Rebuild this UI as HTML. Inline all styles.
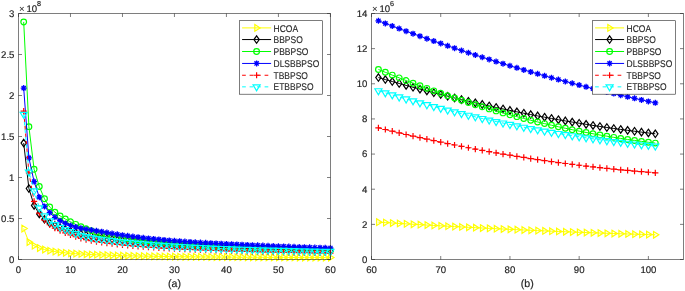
<!DOCTYPE html>
<html><head><meta charset="utf-8"><style>
html,body{margin:0;padding:0;background:#fff;}
svg{display:block;will-change:transform;}
text{font-family:"Liberation Sans",sans-serif;font-size:8.5px;fill:#262626;stroke:#262626;stroke-width:0.18px;text-rendering:geometricPrecision;}
text.tk{font-size:9.6px;}
text.lg{stroke-width:0.1px;}
</style></head><body>
<svg width="685" height="291" viewBox="0 0 685 291">
<rect width="685" height="291" fill="#fff"/>
<defs>
<clipPath id="cl"><rect x="18.5" y="13.5" width="317.9" height="251.0"/></clipPath>
<clipPath id="cr"><rect x="371.5" y="13.5" width="311.5" height="246.0"/></clipPath>
</defs>
<g><path d="M23.70,228.59L28.90,242.12L34.09,245.72L39.29,248.02L44.49,249.50L49.69,250.73L54.89,251.60L60.09,252.28L65.28,252.82L70.48,253.27L75.68,253.65L80.88,253.97L86.08,254.26L91.28,254.51L96.47,254.74L101.67,254.96L106.87,255.15L112.07,255.33L117.27,255.50L122.47,255.65L127.66,255.78L132.86,255.91L138.06,256.02L143.26,256.13L148.46,256.23L153.66,256.32L158.85,256.41L164.05,256.49L169.25,256.56L174.45,256.63L179.65,256.69L184.85,256.75L190.04,256.81L195.24,256.86L200.44,256.91L205.64,256.96L210.84,257.00L216.04,257.05L221.23,257.08L226.43,257.12L231.63,257.16L236.83,257.19L242.03,257.22L247.23,257.26L252.42,257.28L257.62,257.31L262.82,257.34L268.02,257.37L273.22,257.39L278.42,257.42L283.61,257.44L288.81,257.46L294.01,257.48L299.21,257.50L304.41,257.52L309.61,257.54L314.80,257.56L320.00,257.58L325.20,257.60L330.40,257.61" fill="none" stroke="#ffff00" stroke-width="1.0"/>
<path d="M21.93,225.29L27.23,228.59L21.93,231.89ZM27.13,238.82L32.43,242.12L27.13,245.42ZM32.33,242.42L37.63,245.72L32.33,249.02ZM37.53,244.72L42.83,248.02L37.53,251.32ZM42.72,246.20L48.02,249.50L42.72,252.80ZM47.92,247.43L53.22,250.73L47.92,254.03ZM53.12,248.30L58.42,251.60L53.12,254.90ZM58.32,248.98L63.62,252.28L58.32,255.58ZM63.52,249.52L68.82,252.82L63.52,256.12ZM68.72,249.97L74.02,253.27L68.72,256.57ZM73.91,250.35L79.21,253.65L73.91,256.95ZM79.11,250.67L84.41,253.97L79.11,257.27ZM84.31,250.96L89.61,254.26L84.31,257.56ZM89.51,251.21L94.81,254.51L89.51,257.81ZM94.71,251.44L100.01,254.74L94.71,258.04ZM99.91,251.66L105.21,254.96L99.91,258.26ZM105.10,251.85L110.40,255.15L105.10,258.45ZM110.30,252.03L115.60,255.33L110.30,258.63ZM115.50,252.20L120.80,255.50L115.50,258.80ZM120.70,252.35L126.00,255.65L120.70,258.95ZM125.90,252.48L131.20,255.78L125.90,259.08ZM131.10,252.61L136.40,255.91L131.10,259.21ZM136.29,252.72L141.59,256.02L136.29,259.32ZM141.49,252.83L146.79,256.13L141.49,259.43ZM146.69,252.93L151.99,256.23L146.69,259.53ZM151.89,253.02L157.19,256.32L151.89,259.62ZM157.09,253.11L162.39,256.41L157.09,259.71ZM162.29,253.19L167.59,256.49L162.29,259.79ZM167.48,253.26L172.78,256.56L167.48,259.86ZM172.68,253.33L177.98,256.63L172.68,259.93ZM177.88,253.39L183.18,256.69L177.88,259.99ZM183.08,253.45L188.38,256.75L183.08,260.05ZM188.28,253.51L193.58,256.81L188.28,260.11ZM193.48,253.56L198.78,256.86L193.48,260.16ZM198.67,253.61L203.97,256.91L198.67,260.21ZM203.87,253.66L209.17,256.96L203.87,260.26ZM209.07,253.70L214.37,257.00L209.07,260.30ZM214.27,253.75L219.57,257.05L214.27,260.35ZM219.47,253.78L224.77,257.08L219.47,260.38ZM224.67,253.82L229.97,257.12L224.67,260.42ZM229.86,253.86L235.16,257.16L229.86,260.46ZM235.06,253.89L240.36,257.19L235.06,260.49ZM240.26,253.92L245.56,257.22L240.26,260.52ZM245.46,253.96L250.76,257.26L245.46,260.56ZM250.66,253.98L255.96,257.28L250.66,260.58ZM255.86,254.01L261.16,257.31L255.86,260.61ZM261.06,254.04L266.36,257.34L261.06,260.64ZM266.25,254.07L271.55,257.37L266.25,260.67ZM271.45,254.09L276.75,257.39L271.45,260.69ZM276.65,254.12L281.95,257.42L276.65,260.72ZM281.85,254.14L287.15,257.44L281.85,260.74ZM287.05,254.16L292.35,257.46L287.05,260.76ZM292.25,254.18L297.55,257.48L292.25,260.78ZM297.44,254.20L302.74,257.50L297.44,260.80ZM302.64,254.22L307.94,257.52L302.64,260.82ZM307.84,254.24L313.14,257.54L307.84,260.84ZM313.04,254.26L318.34,257.56L313.04,260.86ZM318.24,254.28L323.54,257.58L318.24,260.88ZM323.44,254.30L328.74,257.60L323.44,260.90ZM328.63,254.31L333.93,257.61L328.63,260.91Z" fill="none" stroke="#ffff00" stroke-width="1.2"/>
<path d="M23.70,143.06L28.90,188.49L34.09,205.38L39.29,213.97L44.49,219.32L49.69,222.95L54.89,225.62L60.09,227.77L65.28,229.59L70.48,231.21L75.68,232.66L80.88,233.94L86.08,235.09L91.28,236.13L96.47,237.06L101.67,237.91L106.87,238.68L112.07,239.39L117.27,240.04L122.47,240.64L127.66,241.19L132.86,241.70L138.06,242.18L143.26,242.63L148.46,243.06L153.66,243.46L158.85,243.84L164.05,244.21L169.25,244.56L174.45,244.90L179.65,245.23L184.85,245.54L190.04,245.84L195.24,246.13L200.44,246.40L205.64,246.66L210.84,246.92L216.04,247.16L221.23,247.39L226.43,247.62L231.63,247.84L236.83,248.05L242.03,248.25L247.23,248.45L252.42,248.64L257.62,248.82L262.82,249.00L268.02,249.17L273.22,249.34L278.42,249.50L283.61,249.66L288.81,249.81L294.01,249.96L299.21,250.10L304.41,250.24L309.61,250.38L314.80,250.51L320.00,250.64L325.20,250.77L330.40,250.89" fill="none" stroke="#000000" stroke-width="1.0"/>
<path d="M23.70,139.31L26.35,143.06L23.70,146.81L21.05,143.06ZM28.90,184.74L31.55,188.49L28.90,192.24L26.25,188.49ZM34.09,201.63L36.74,205.38L34.09,209.13L31.45,205.38ZM39.29,210.22L41.94,213.97L39.29,217.72L36.64,213.97ZM44.49,215.57L47.14,219.32L44.49,223.07L41.84,219.32ZM49.69,219.20L52.34,222.95L49.69,226.70L47.04,222.95ZM54.89,221.87L57.54,225.62L54.89,229.37L52.24,225.62ZM60.09,224.02L62.74,227.77L60.09,231.52L57.44,227.77ZM65.28,225.84L67.94,229.59L65.28,233.34L62.63,229.59ZM70.48,227.46L73.13,231.21L70.48,234.96L67.83,231.21ZM75.68,228.91L78.33,232.66L75.68,236.41L73.03,232.66ZM80.88,230.19L83.53,233.94L80.88,237.69L78.23,233.94ZM86.08,231.34L88.73,235.09L86.08,238.84L83.43,235.09ZM91.28,232.38L93.93,236.13L91.28,239.88L88.63,236.13ZM96.47,233.31L99.12,237.06L96.47,240.81L93.82,237.06ZM101.67,234.16L104.32,237.91L101.67,241.66L99.02,237.91ZM106.87,234.93L109.52,238.68L106.87,242.43L104.22,238.68ZM112.07,235.64L114.72,239.39L112.07,243.14L109.42,239.39ZM117.27,236.29L119.92,240.04L117.27,243.79L114.62,240.04ZM122.47,236.89L125.12,240.64L122.47,244.39L119.82,240.64ZM127.66,237.44L130.31,241.19L127.66,244.94L125.01,241.19ZM132.86,237.95L135.51,241.70L132.86,245.45L130.21,241.70ZM138.06,238.43L140.71,242.18L138.06,245.93L135.41,242.18ZM143.26,238.88L145.91,242.63L143.26,246.38L140.61,242.63ZM148.46,239.31L151.11,243.06L148.46,246.81L145.81,243.06ZM153.66,239.71L156.31,243.46L153.66,247.21L151.01,243.46ZM158.85,240.09L161.50,243.84L158.85,247.59L156.20,243.84ZM164.05,240.46L166.70,244.21L164.05,247.96L161.40,244.21ZM169.25,240.81L171.90,244.56L169.25,248.31L166.60,244.56ZM174.45,241.15L177.10,244.90L174.45,248.65L171.80,244.90ZM179.65,241.48L182.30,245.23L179.65,248.98L177.00,245.23ZM184.85,241.79L187.50,245.54L184.85,249.29L182.20,245.54ZM190.04,242.09L192.69,245.84L190.04,249.59L187.39,245.84ZM195.24,242.38L197.89,246.13L195.24,249.88L192.59,246.13ZM200.44,242.65L203.09,246.40L200.44,250.15L197.79,246.40ZM205.64,242.91L208.29,246.66L205.64,250.41L202.99,246.66ZM210.84,243.17L213.49,246.92L210.84,250.67L208.19,246.92ZM216.04,243.41L218.69,247.16L216.04,250.91L213.39,247.16ZM221.23,243.64L223.88,247.39L221.23,251.14L218.58,247.39ZM226.43,243.87L229.08,247.62L226.43,251.37L223.78,247.62ZM231.63,244.09L234.28,247.84L231.63,251.59L228.98,247.84ZM236.83,244.30L239.48,248.05L236.83,251.80L234.18,248.05ZM242.03,244.50L244.68,248.25L242.03,252.00L239.38,248.25ZM247.23,244.70L249.88,248.45L247.23,252.20L244.58,248.45ZM252.42,244.89L255.07,248.64L252.42,252.39L249.77,248.64ZM257.62,245.07L260.27,248.82L257.62,252.57L254.97,248.82ZM262.82,245.25L265.47,249.00L262.82,252.75L260.17,249.00ZM268.02,245.42L270.67,249.17L268.02,252.92L265.37,249.17ZM273.22,245.59L275.87,249.34L273.22,253.09L270.57,249.34ZM278.42,245.75L281.07,249.50L278.42,253.25L275.77,249.50ZM283.61,245.91L286.26,249.66L283.61,253.41L280.96,249.66ZM288.81,246.06L291.46,249.81L288.81,253.56L286.16,249.81ZM294.01,246.21L296.66,249.96L294.01,253.71L291.36,249.96ZM299.21,246.35L301.86,250.10L299.21,253.85L296.56,250.10ZM304.41,246.49L307.06,250.24L304.41,253.99L301.76,250.24ZM309.61,246.63L312.26,250.38L309.61,254.13L306.96,250.38ZM314.80,246.76L317.45,250.51L314.80,254.26L312.15,250.51ZM320.00,246.89L322.65,250.64L320.00,254.39L317.35,250.64ZM325.20,247.02L327.85,250.77L325.20,254.52L322.55,250.77ZM330.40,247.14L333.05,250.89L330.40,254.64L327.75,250.89Z" fill="none" stroke="#000000" stroke-width="1.2"/>
<path d="M23.70,21.95L28.90,126.66L34.09,169.30L39.29,186.52L44.49,198.82L49.69,207.02L54.89,212.18L60.09,215.92L65.28,219.00L70.48,221.78L75.68,224.37L80.88,226.70L86.08,228.77L91.28,230.60L96.47,232.19L101.67,233.58L106.87,234.82L112.07,235.92L117.27,236.90L122.47,237.77L127.66,238.54L132.86,239.23L138.06,239.86L143.26,240.43L148.46,240.96L153.66,241.46L158.85,241.94L164.05,242.40L169.25,242.84L174.45,243.26L179.65,243.67L184.85,244.07L190.04,244.44L195.24,244.80L200.44,245.14L205.64,245.46L210.84,245.78L216.04,246.08L221.23,246.36L226.43,246.64L231.63,246.91L236.83,247.16L242.03,247.41L247.23,247.65L252.42,247.88L257.62,248.10L262.82,248.32L268.02,248.52L273.22,248.72L278.42,248.92L283.61,249.11L288.81,249.29L294.01,249.46L299.21,249.64L304.41,249.80L309.61,249.96L314.80,250.12L320.00,250.27L325.20,250.42L330.40,250.56" fill="none" stroke="#00ff00" stroke-width="1.0"/>
<path d="M20.85,21.95a2.85,2.85 0 1,0 5.70,0a2.85,2.85 0 1,0 -5.70,0ZM26.05,126.66a2.85,2.85 0 1,0 5.70,0a2.85,2.85 0 1,0 -5.70,0ZM31.24,169.30a2.85,2.85 0 1,0 5.70,0a2.85,2.85 0 1,0 -5.70,0ZM36.44,186.52a2.85,2.85 0 1,0 5.70,0a2.85,2.85 0 1,0 -5.70,0ZM41.64,198.82a2.85,2.85 0 1,0 5.70,0a2.85,2.85 0 1,0 -5.70,0ZM46.84,207.02a2.85,2.85 0 1,0 5.70,0a2.85,2.85 0 1,0 -5.70,0ZM52.04,212.18a2.85,2.85 0 1,0 5.70,0a2.85,2.85 0 1,0 -5.70,0ZM57.24,215.92a2.85,2.85 0 1,0 5.70,0a2.85,2.85 0 1,0 -5.70,0ZM62.43,219.00a2.85,2.85 0 1,0 5.70,0a2.85,2.85 0 1,0 -5.70,0ZM67.63,221.78a2.85,2.85 0 1,0 5.70,0a2.85,2.85 0 1,0 -5.70,0ZM72.83,224.37a2.85,2.85 0 1,0 5.70,0a2.85,2.85 0 1,0 -5.70,0ZM78.03,226.70a2.85,2.85 0 1,0 5.70,0a2.85,2.85 0 1,0 -5.70,0ZM83.23,228.77a2.85,2.85 0 1,0 5.70,0a2.85,2.85 0 1,0 -5.70,0ZM88.43,230.60a2.85,2.85 0 1,0 5.70,0a2.85,2.85 0 1,0 -5.70,0ZM93.62,232.19a2.85,2.85 0 1,0 5.70,0a2.85,2.85 0 1,0 -5.70,0ZM98.82,233.58a2.85,2.85 0 1,0 5.70,0a2.85,2.85 0 1,0 -5.70,0ZM104.02,234.82a2.85,2.85 0 1,0 5.70,0a2.85,2.85 0 1,0 -5.70,0ZM109.22,235.92a2.85,2.85 0 1,0 5.70,0a2.85,2.85 0 1,0 -5.70,0ZM114.42,236.90a2.85,2.85 0 1,0 5.70,0a2.85,2.85 0 1,0 -5.70,0ZM119.62,237.77a2.85,2.85 0 1,0 5.70,0a2.85,2.85 0 1,0 -5.70,0ZM124.81,238.54a2.85,2.85 0 1,0 5.70,0a2.85,2.85 0 1,0 -5.70,0ZM130.01,239.23a2.85,2.85 0 1,0 5.70,0a2.85,2.85 0 1,0 -5.70,0ZM135.21,239.86a2.85,2.85 0 1,0 5.70,0a2.85,2.85 0 1,0 -5.70,0ZM140.41,240.43a2.85,2.85 0 1,0 5.70,0a2.85,2.85 0 1,0 -5.70,0ZM145.61,240.96a2.85,2.85 0 1,0 5.70,0a2.85,2.85 0 1,0 -5.70,0ZM150.81,241.46a2.85,2.85 0 1,0 5.70,0a2.85,2.85 0 1,0 -5.70,0ZM156.00,241.94a2.85,2.85 0 1,0 5.70,0a2.85,2.85 0 1,0 -5.70,0ZM161.20,242.40a2.85,2.85 0 1,0 5.70,0a2.85,2.85 0 1,0 -5.70,0ZM166.40,242.84a2.85,2.85 0 1,0 5.70,0a2.85,2.85 0 1,0 -5.70,0ZM171.60,243.26a2.85,2.85 0 1,0 5.70,0a2.85,2.85 0 1,0 -5.70,0ZM176.80,243.67a2.85,2.85 0 1,0 5.70,0a2.85,2.85 0 1,0 -5.70,0ZM182.00,244.07a2.85,2.85 0 1,0 5.70,0a2.85,2.85 0 1,0 -5.70,0ZM187.19,244.44a2.85,2.85 0 1,0 5.70,0a2.85,2.85 0 1,0 -5.70,0ZM192.39,244.80a2.85,2.85 0 1,0 5.70,0a2.85,2.85 0 1,0 -5.70,0ZM197.59,245.14a2.85,2.85 0 1,0 5.70,0a2.85,2.85 0 1,0 -5.70,0ZM202.79,245.46a2.85,2.85 0 1,0 5.70,0a2.85,2.85 0 1,0 -5.70,0ZM207.99,245.78a2.85,2.85 0 1,0 5.70,0a2.85,2.85 0 1,0 -5.70,0ZM213.19,246.08a2.85,2.85 0 1,0 5.70,0a2.85,2.85 0 1,0 -5.70,0ZM218.38,246.36a2.85,2.85 0 1,0 5.70,0a2.85,2.85 0 1,0 -5.70,0ZM223.58,246.64a2.85,2.85 0 1,0 5.70,0a2.85,2.85 0 1,0 -5.70,0ZM228.78,246.91a2.85,2.85 0 1,0 5.70,0a2.85,2.85 0 1,0 -5.70,0ZM233.98,247.16a2.85,2.85 0 1,0 5.70,0a2.85,2.85 0 1,0 -5.70,0ZM239.18,247.41a2.85,2.85 0 1,0 5.70,0a2.85,2.85 0 1,0 -5.70,0ZM244.38,247.65a2.85,2.85 0 1,0 5.70,0a2.85,2.85 0 1,0 -5.70,0ZM249.57,247.88a2.85,2.85 0 1,0 5.70,0a2.85,2.85 0 1,0 -5.70,0ZM254.77,248.10a2.85,2.85 0 1,0 5.70,0a2.85,2.85 0 1,0 -5.70,0ZM259.97,248.32a2.85,2.85 0 1,0 5.70,0a2.85,2.85 0 1,0 -5.70,0ZM265.17,248.52a2.85,2.85 0 1,0 5.70,0a2.85,2.85 0 1,0 -5.70,0ZM270.37,248.72a2.85,2.85 0 1,0 5.70,0a2.85,2.85 0 1,0 -5.70,0ZM275.57,248.92a2.85,2.85 0 1,0 5.70,0a2.85,2.85 0 1,0 -5.70,0ZM280.76,249.11a2.85,2.85 0 1,0 5.70,0a2.85,2.85 0 1,0 -5.70,0ZM285.96,249.29a2.85,2.85 0 1,0 5.70,0a2.85,2.85 0 1,0 -5.70,0ZM291.16,249.46a2.85,2.85 0 1,0 5.70,0a2.85,2.85 0 1,0 -5.70,0ZM296.36,249.64a2.85,2.85 0 1,0 5.70,0a2.85,2.85 0 1,0 -5.70,0ZM301.56,249.80a2.85,2.85 0 1,0 5.70,0a2.85,2.85 0 1,0 -5.70,0ZM306.76,249.96a2.85,2.85 0 1,0 5.70,0a2.85,2.85 0 1,0 -5.70,0ZM311.95,250.12a2.85,2.85 0 1,0 5.70,0a2.85,2.85 0 1,0 -5.70,0ZM317.15,250.27a2.85,2.85 0 1,0 5.70,0a2.85,2.85 0 1,0 -5.70,0ZM322.35,250.42a2.85,2.85 0 1,0 5.70,0a2.85,2.85 0 1,0 -5.70,0ZM327.55,250.56a2.85,2.85 0 1,0 5.70,0a2.85,2.85 0 1,0 -5.70,0Z" fill="none" stroke="#00ff00" stroke-width="1.2"/>
<path d="M23.70,88.12L28.90,157.82L34.09,181.60L39.29,197.18L44.49,206.45L49.69,212.68L54.89,217.28L60.09,220.74L65.28,223.40L70.48,225.47L75.68,227.09L80.88,228.34L86.08,229.26L91.28,230.01L96.47,230.80L101.67,231.69L106.87,232.61L112.07,233.52L117.27,234.37L122.47,235.15L127.66,235.87L132.86,236.56L138.06,237.21L143.26,237.82L148.46,238.40L153.66,238.94L158.85,239.46L164.05,239.93L169.25,240.38L174.45,240.80L179.65,241.20L184.85,241.57L190.04,241.91L195.24,242.24L200.44,242.56L205.64,242.86L210.84,243.14L216.04,243.42L221.23,243.69L226.43,243.95L231.63,244.20L236.83,244.45L242.03,244.69L247.23,244.92L252.42,245.15L257.62,245.37L262.82,245.59L268.02,245.81L273.22,246.02L278.42,246.22L283.61,246.42L288.81,246.62L294.01,246.81L299.21,247.00L304.41,247.18L309.61,247.35L314.80,247.53L320.00,247.70L325.20,247.86L330.40,248.02" fill="none" stroke="#0000ff" stroke-width="1.0"/>
<path d="M20.70,88.12H26.70M23.70,85.12V91.12M21.58,86.00L25.82,90.24M21.58,90.24L25.82,86.00M25.90,157.82H31.90M28.90,154.82V160.82M26.78,155.70L31.02,159.94M26.78,159.94L31.02,155.70M31.09,181.60H37.09M34.09,178.60V184.60M31.97,179.48L36.22,183.72M31.97,183.72L36.22,179.48M36.29,197.18H42.29M39.29,194.18V200.18M37.17,195.06L41.41,199.30M37.17,199.30L41.41,195.06M41.49,206.45H47.49M44.49,203.45V209.45M42.37,204.32L46.61,208.57M42.37,208.57L46.61,204.32M46.69,212.68H52.69M49.69,209.68V215.68M47.57,210.56L51.81,214.80M47.57,214.80L51.81,210.56M51.89,217.28H57.89M54.89,214.28V220.28M52.77,215.16L57.01,219.40M52.77,219.40L57.01,215.16M57.09,220.74H63.09M60.09,217.74V223.74M57.97,218.62L62.21,222.86M57.97,222.86L62.21,218.62M62.28,223.40H68.28M65.28,220.40V226.40M63.16,221.28L67.41,225.52M63.16,225.52L67.41,221.28M67.48,225.47H73.48M70.48,222.47V228.47M68.36,223.35L72.60,227.59M68.36,227.59L72.60,223.35M72.68,227.09H78.68M75.68,224.09V230.09M73.56,224.97L77.80,229.21M73.56,229.21L77.80,224.97M77.88,228.34H83.88M80.88,225.34V231.34M78.76,226.22L83.00,230.46M78.76,230.46L83.00,226.22M83.08,229.26H89.08M86.08,226.26V232.26M83.96,227.13L88.20,231.38M83.96,231.38L88.20,227.13M88.28,230.01H94.28M91.28,227.01V233.01M89.16,227.89L93.40,232.13M89.16,232.13L93.40,227.89M93.47,230.80H99.47M96.47,227.80V233.80M94.35,228.68L98.60,232.92M94.35,232.92L98.60,228.68M98.67,231.69H104.67M101.67,228.69V234.69M99.55,229.57L103.79,233.81M99.55,233.81L103.79,229.57M103.87,232.61H109.87M106.87,229.61V235.61M104.75,230.49L108.99,234.73M104.75,234.73L108.99,230.49M109.07,233.52H115.07M112.07,230.52V236.52M109.95,231.40L114.19,235.64M109.95,235.64L114.19,231.40M114.27,234.37H120.27M117.27,231.37V237.37M115.15,232.25L119.39,236.49M115.15,236.49L119.39,232.25M119.47,235.15H125.47M122.47,232.15V238.15M120.35,233.02L124.59,237.27M120.35,237.27L124.59,233.02M124.66,235.87H130.66M127.66,232.87V238.87M125.54,233.75L129.79,237.99M125.54,237.99L129.79,233.75M129.86,236.56H135.86M132.86,233.56V239.56M130.74,234.43L134.98,238.68M130.74,238.68L134.98,234.43M135.06,237.21H141.06M138.06,234.21V240.21M135.94,235.08L140.18,239.33M135.94,239.33L140.18,235.08M140.26,237.82H146.26M143.26,234.82V240.82M141.14,235.70L145.38,239.94M141.14,239.94L145.38,235.70M145.46,238.40H151.46M148.46,235.40V241.40M146.34,236.28L150.58,240.52M146.34,240.52L150.58,236.28M150.66,238.94H156.66M153.66,235.94V241.94M151.54,236.82L155.78,241.07M151.54,241.07L155.78,236.82M155.85,239.46H161.85M158.85,236.46V242.46M156.73,237.33L160.98,241.58M156.73,241.58L160.98,237.33M161.05,239.93H167.05M164.05,236.93V242.93M161.93,237.81L166.17,242.06M161.93,242.06L166.17,237.81M166.25,240.38H172.25M169.25,237.38V243.38M167.13,238.26L171.37,242.51M167.13,242.51L171.37,238.26M171.45,240.80H177.45M174.45,237.80V243.80M172.33,238.68L176.57,242.93M172.33,242.93L176.57,238.68M176.65,241.20H182.65M179.65,238.20V244.20M177.53,239.08L181.77,243.32M177.53,243.32L181.77,239.08M181.85,241.57H187.85M184.85,238.57V244.57M182.73,239.44L186.97,243.69M182.73,243.69L186.97,239.44M187.04,241.91H193.04M190.04,238.91V244.91M187.92,239.79L192.17,244.03M187.92,244.03L192.17,239.79M192.24,242.24H198.24M195.24,239.24V245.24M193.12,240.12L197.36,244.36M193.12,244.36L197.36,240.12M197.44,242.56H203.44M200.44,239.56V245.56M198.32,240.43L202.56,244.68M198.32,244.68L202.56,240.43M202.64,242.86H208.64M205.64,239.86V245.86M203.52,240.73L207.76,244.98M203.52,244.98L207.76,240.73M207.84,243.14H213.84M210.84,240.14V246.14M208.72,241.02L212.96,245.27M208.72,245.27L212.96,241.02M213.04,243.42H219.04M216.04,240.42V246.42M213.92,241.30L218.16,245.54M213.92,245.54L218.16,241.30M218.23,243.69H224.23M221.23,240.69V246.69M219.11,241.57L223.36,245.81M219.11,245.81L223.36,241.57M223.43,243.95H229.43M226.43,240.95V246.95M224.31,241.83L228.55,246.07M224.31,246.07L228.55,241.83M228.63,244.20H234.63M231.63,241.20V247.20M229.51,242.08L233.75,246.32M229.51,246.32L233.75,242.08M233.83,244.45H239.83M236.83,241.45V247.45M234.71,242.33L238.95,246.57M234.71,246.57L238.95,242.33M239.03,244.69H245.03M242.03,241.69V247.69M239.91,242.56L244.15,246.81M239.91,246.81L244.15,242.56M244.23,244.92H250.23M247.23,241.92V247.92M245.11,242.80L249.35,247.04M245.11,247.04L249.35,242.80M249.42,245.15H255.42M252.42,242.15V248.15M250.30,243.03L254.55,247.27M250.30,247.27L254.55,243.03M254.62,245.37H260.62M257.62,242.37V248.37M255.50,243.25L259.74,247.50M255.50,247.50L259.74,243.25M259.82,245.59H265.82M262.82,242.59V248.59M260.70,243.47L264.94,247.72M260.70,247.72L264.94,243.47M265.02,245.81H271.02M268.02,242.81V248.81M265.90,243.69L270.14,247.93M265.90,247.93L270.14,243.69M270.22,246.02H276.22M273.22,243.02V249.02M271.10,243.90L275.34,248.14M271.10,248.14L275.34,243.90M275.42,246.22H281.42M278.42,243.22V249.22M276.30,244.10L280.54,248.35M276.30,248.35L280.54,244.10M280.61,246.42H286.61M283.61,243.42V249.42M281.49,244.30L285.74,248.55M281.49,248.55L285.74,244.30M285.81,246.62H291.81M288.81,243.62V249.62M286.69,244.50L290.93,248.74M286.69,248.74L290.93,244.50M291.01,246.81H297.01M294.01,243.81V249.81M291.89,244.69L296.13,248.93M291.89,248.93L296.13,244.69M296.21,247.00H302.21M299.21,244.00V250.00M297.09,244.87L301.33,249.12M297.09,249.12L301.33,244.87M301.41,247.18H307.41M304.41,244.18V250.18M302.29,245.06L306.53,249.30M302.29,249.30L306.53,245.06M306.61,247.35H312.61M309.61,244.35V250.35M307.49,245.23L311.73,249.48M307.49,249.48L311.73,245.23M311.80,247.53H317.80M314.80,244.53V250.53M312.68,245.41L316.93,249.65M312.68,249.65L316.93,245.41M317.00,247.70H323.00M320.00,244.70V250.70M317.88,245.57L322.12,249.82M317.88,249.82L322.12,245.57M322.20,247.86H328.20M325.20,244.86V250.86M323.08,245.74L327.32,249.98M323.08,249.98L327.32,245.74M327.40,248.02H333.40M330.40,245.02V251.02M328.28,245.90L332.52,250.14M328.28,250.14L332.52,245.90" fill="none" stroke="#0000ff" stroke-width="1.3"/>
<path d="M23.70,111.08L28.90,172.83L34.09,201.28L39.29,213.20L44.49,220.14L49.69,224.77L54.89,228.08L60.09,230.70L65.28,232.93L70.48,234.90L75.68,236.76L80.88,238.34L86.08,239.60L91.28,240.66L96.47,241.58L101.67,242.38L106.87,243.10L112.07,243.75L117.27,244.35L122.47,244.90L127.66,245.42L132.86,245.89L138.06,246.33L143.26,246.73L148.46,247.11L153.66,247.46L158.85,247.79L164.05,248.11L169.25,248.40L174.45,248.68L179.65,248.94L184.85,249.19L190.04,249.42L195.24,249.64L200.44,249.86L205.64,250.06L210.84,250.25L216.04,250.44L221.23,250.61L226.43,250.78L231.63,250.94L236.83,251.10L242.03,251.25L247.23,251.39L252.42,251.53L257.62,251.66L262.82,251.79L268.02,251.91L273.22,252.03L278.42,252.14L283.61,252.25L288.81,252.36L294.01,252.46L299.21,252.56L304.41,252.66L309.61,252.75L314.80,252.85L320.00,252.93L325.20,253.02L330.40,253.10" fill="none" stroke="#ff0000" stroke-width="1.0" stroke-dasharray="3.7 3.8"/>
<path d="M20.60,111.08H26.80M23.70,107.98V114.18M25.80,172.83H32.00M28.90,169.73V175.93M30.99,201.28H37.20M34.09,198.18V204.38M36.19,213.20H42.39M39.29,210.10V216.30M41.39,220.14H47.59M44.49,217.04V223.24M46.59,224.77H52.79M49.69,221.67V227.87M51.79,228.08H57.99M54.89,224.98V231.18M56.99,230.70H63.19M60.09,227.60V233.80M62.18,232.93H68.38M65.28,229.83V236.03M67.38,234.90H73.58M70.48,231.80V238.00M72.58,236.76H78.78M75.68,233.66V239.86M77.78,238.34H83.98M80.88,235.24V241.44M82.98,239.60H89.18M86.08,236.50V242.70M88.18,240.66H94.38M91.28,237.56V243.76M93.38,241.58H99.57M96.47,238.48V244.68M98.57,242.38H104.77M101.67,239.28V245.48M103.77,243.10H109.97M106.87,240.00V246.20M108.97,243.75H115.17M112.07,240.65V246.85M114.17,244.35H120.37M117.27,241.25V247.45M119.37,244.90H125.57M122.47,241.80V248.00M124.56,245.42H130.76M127.66,242.32V248.52M129.76,245.89H135.96M132.86,242.79V248.99M134.96,246.33H141.16M138.06,243.23V249.43M140.16,246.73H146.36M143.26,243.63V249.83M145.36,247.11H151.56M148.46,244.01V250.21M150.56,247.46H156.76M153.66,244.36V250.56M155.75,247.79H161.95M158.85,244.69V250.89M160.95,248.11H167.15M164.05,245.01V251.21M166.15,248.40H172.35M169.25,245.30V251.50M171.35,248.68H177.55M174.45,245.58V251.78M176.55,248.94H182.75M179.65,245.84V252.04M181.75,249.19H187.95M184.85,246.09V252.29M186.94,249.42H193.14M190.04,246.32V252.52M192.14,249.64H198.34M195.24,246.54V252.74M197.34,249.86H203.54M200.44,246.76V252.96M202.54,250.06H208.74M205.64,246.96V253.16M207.74,250.25H213.94M210.84,247.15V253.35M212.94,250.44H219.14M216.04,247.34V253.54M218.13,250.61H224.33M221.23,247.51V253.71M223.33,250.78H229.53M226.43,247.68V253.88M228.53,250.94H234.73M231.63,247.84V254.04M233.73,251.10H239.93M236.83,248.00V254.20M238.93,251.25H245.13M242.03,248.15V254.35M244.13,251.39H250.33M247.23,248.29V254.49M249.32,251.53H255.52M252.42,248.43V254.63M254.52,251.66H260.72M257.62,248.56V254.76M259.72,251.79H265.92M262.82,248.69V254.89M264.92,251.91H271.12M268.02,248.81V255.01M270.12,252.03H276.32M273.22,248.93V255.13M275.32,252.14H281.52M278.42,249.04V255.24M280.51,252.25H286.71M283.61,249.15V255.35M285.71,252.36H291.91M288.81,249.26V255.46M290.91,252.46H297.11M294.01,249.36V255.56M296.11,252.56H302.31M299.21,249.46V255.66M301.31,252.66H307.51M304.41,249.56V255.76M306.51,252.75H312.71M309.61,249.65V255.85M311.70,252.85H317.90M314.80,249.75V255.95M316.90,252.93H323.10M320.00,249.83V256.03M322.10,253.02H328.30M325.20,249.92V256.12M327.30,253.10H333.50M330.40,250.00V256.20" fill="none" stroke="#ff0000" stroke-width="1.2"/>
<path d="M23.70,114.36L28.90,172.09L34.09,190.95L39.29,207.84L44.49,215.88L49.69,220.96L54.89,224.57L60.09,227.29L65.28,229.57L70.48,231.62L75.68,233.62L80.88,235.31L86.08,236.58L91.28,237.62L96.47,238.51L101.67,239.29L106.87,240.00L112.07,240.66L117.27,241.28L122.47,241.87L127.66,242.43L132.86,242.96L138.06,243.46L143.26,243.93L148.46,244.38L153.66,244.79L158.85,245.18L164.05,245.55L169.25,245.89L174.45,246.22L179.65,246.52L184.85,246.81L190.04,247.09L195.24,247.35L200.44,247.60L205.64,247.84L210.84,248.06L216.04,248.28L221.23,248.49L226.43,248.69L231.63,248.88L236.83,249.06L242.03,249.24L247.23,249.41L252.42,249.57L257.62,249.73L262.82,249.88L268.02,250.03L273.22,250.17L278.42,250.31L283.61,250.44L288.81,250.57L294.01,250.69L299.21,250.81L304.41,250.93L309.61,251.04L314.80,251.15L320.00,251.26L325.20,251.36L330.40,251.46" fill="none" stroke="#00ffff" stroke-width="1.0" stroke-dasharray="3.7 3.8"/>
<path d="M20.15,112.36L27.25,112.36L23.70,118.36ZM25.35,170.09L32.45,170.09L28.90,176.09ZM30.54,188.95L37.64,188.95L34.09,194.95ZM35.74,205.84L42.84,205.84L39.29,211.84ZM40.94,213.88L48.04,213.88L44.49,219.88ZM46.14,218.96L53.24,218.96L49.69,224.96ZM51.34,222.57L58.44,222.57L54.89,228.57ZM56.54,225.29L63.64,225.29L60.09,231.29ZM61.73,227.57L68.83,227.57L65.28,233.57ZM66.93,229.62L74.03,229.62L70.48,235.62ZM72.13,231.62L79.23,231.62L75.68,237.62ZM77.33,233.31L84.43,233.31L80.88,239.31ZM82.53,234.58L89.63,234.58L86.08,240.58ZM87.73,235.62L94.83,235.62L91.28,241.62ZM92.92,236.51L100.02,236.51L96.47,242.51ZM98.12,237.29L105.22,237.29L101.67,243.29ZM103.32,238.00L110.42,238.00L106.87,244.00ZM108.52,238.66L115.62,238.66L112.07,244.66ZM113.72,239.28L120.82,239.28L117.27,245.28ZM118.92,239.87L126.02,239.87L122.47,245.87ZM124.11,240.43L131.22,240.43L127.66,246.43ZM129.31,240.96L136.41,240.96L132.86,246.96ZM134.51,241.46L141.61,241.46L138.06,247.46ZM139.71,241.93L146.81,241.93L143.26,247.93ZM144.91,242.38L152.01,242.38L148.46,248.38ZM150.11,242.79L157.21,242.79L153.66,248.79ZM155.30,243.18L162.41,243.18L158.85,249.18ZM160.50,243.55L167.60,243.55L164.05,249.55ZM165.70,243.89L172.80,243.89L169.25,249.89ZM170.90,244.22L178.00,244.22L174.45,250.22ZM176.10,244.52L183.20,244.52L179.65,250.52ZM181.30,244.81L188.40,244.81L184.85,250.81ZM186.49,245.09L193.59,245.09L190.04,251.09ZM191.69,245.35L198.79,245.35L195.24,251.35ZM196.89,245.60L203.99,245.60L200.44,251.60ZM202.09,245.84L209.19,245.84L205.64,251.84ZM207.29,246.06L214.39,246.06L210.84,252.06ZM212.49,246.28L219.59,246.28L216.04,252.28ZM217.68,246.49L224.78,246.49L221.23,252.49ZM222.88,246.69L229.98,246.69L226.43,252.69ZM228.08,246.88L235.18,246.88L231.63,252.88ZM233.28,247.06L240.38,247.06L236.83,253.06ZM238.48,247.24L245.58,247.24L242.03,253.24ZM243.68,247.41L250.78,247.41L247.23,253.41ZM248.87,247.57L255.97,247.57L252.42,253.57ZM254.07,247.73L261.17,247.73L257.62,253.73ZM259.27,247.88L266.37,247.88L262.82,253.88ZM264.47,248.03L271.57,248.03L268.02,254.03ZM269.67,248.17L276.77,248.17L273.22,254.17ZM274.87,248.31L281.97,248.31L278.42,254.31ZM280.06,248.44L287.16,248.44L283.61,254.44ZM285.26,248.57L292.36,248.57L288.81,254.57ZM290.46,248.69L297.56,248.69L294.01,254.69ZM295.66,248.81L302.76,248.81L299.21,254.81ZM300.86,248.93L307.96,248.93L304.41,254.93ZM306.06,249.04L313.16,249.04L309.61,255.04ZM311.25,249.15L318.35,249.15L314.80,255.15ZM316.45,249.26L323.55,249.26L320.00,255.26ZM321.65,249.36L328.75,249.36L325.20,255.36ZM326.85,249.46L333.95,249.46L330.40,255.46Z" fill="none" stroke="#00ffff" stroke-width="1.2"/></g>
<path d="M18.5,13.5H330.5V259.5H18.5Z" fill="none" stroke="#262626" stroke-width="0.6"/>
<path d="M18.50,259.5v-3.5M18.50,13.5v3.5M70.48,259.5v-3.5M70.48,13.5v3.5M122.47,259.5v-3.5M122.47,13.5v3.5M174.45,259.5v-3.5M174.45,13.5v3.5M226.43,259.5v-3.5M226.43,13.5v3.5M278.42,259.5v-3.5M278.42,13.5v3.5M330.40,259.5v-3.5M330.40,13.5v3.5M18.5,259.50h3.5M330.5,259.50h-3.5M18.5,218.50h3.5M330.5,218.50h-3.5M18.5,177.50h3.5M330.5,177.50h-3.5M18.5,136.50h3.5M330.5,136.50h-3.5M18.5,95.50h3.5M330.5,95.50h-3.5M18.5,54.50h3.5M330.5,54.50h-3.5M18.5,13.50h3.5M330.5,13.50h-3.5" fill="none" stroke="#262626" stroke-width="0.6"/>
<text x="18.50" y="273.1" text-anchor="middle" class="tk">0</text>
<text x="70.48" y="273.1" text-anchor="middle" class="tk">10</text>
<text x="122.47" y="273.1" text-anchor="middle" class="tk">20</text>
<text x="174.45" y="273.1" text-anchor="middle" class="tk">30</text>
<text x="226.43" y="273.1" text-anchor="middle" class="tk">40</text>
<text x="278.42" y="273.1" text-anchor="middle" class="tk">50</text>
<text x="330.40" y="273.1" text-anchor="middle" class="tk">60</text>
<text x="14.40" y="262.80" text-anchor="end" class="tk">0</text>
<text x="14.40" y="221.80" text-anchor="end" class="tk">0.5</text>
<text x="14.40" y="180.80" text-anchor="end" class="tk">1</text>
<text x="14.40" y="139.80" text-anchor="end" class="tk">1.5</text>
<text x="14.40" y="98.80" text-anchor="end" class="tk">2</text>
<text x="14.40" y="57.80" text-anchor="end" class="tk">2.5</text>
<text x="14.40" y="16.80" text-anchor="end" class="tk">3</text>
<text x="21.85" y="11.9" text-anchor="middle" style="font-size:9.6px;stroke-width:0">×</text>
<text x="26.50" y="11.8" style="font-size:9.6px">10</text>
<text x="36.90" y="6.4" style="font-size:7.2px">8</text>
<text x="174.45" y="286.6" text-anchor="middle" style="font-size:10.6px">(a)</text>
<rect x="239.5" y="20.7" width="83.0" height="73.5" fill="#fff" stroke="#262626" stroke-width="0.6"/>
<path d="M242.10,27.90H271.10" stroke="#ffff00" stroke-width="1.0"/>
<path d="M254.83,24.60L260.13,27.90L254.83,31.20Z" fill="none" stroke="#ffff00" stroke-width="1.2"/>
<text transform="translate(273.50 31.50) scale(1 1.15)" class="lg">HCOA</text>
<path d="M242.10,39.55H271.10" stroke="#000000" stroke-width="1.0"/>
<path d="M256.60,35.80L259.25,39.55L256.60,43.30L253.95,39.55Z" fill="none" stroke="#000000" stroke-width="1.2"/>
<text transform="translate(273.50 43.15) scale(1 1.15)" class="lg">BBPSO</text>
<path d="M242.10,51.50H271.10" stroke="#00ff00" stroke-width="1.0"/>
<path d="M253.75,51.50a2.85,2.85 0 1,0 5.70,0a2.85,2.85 0 1,0 -5.70,0Z" fill="none" stroke="#00ff00" stroke-width="1.2"/>
<text transform="translate(273.50 55.10) scale(1 1.15)" class="lg">PBBPSO</text>
<path d="M242.10,63.45H271.10" stroke="#0000ff" stroke-width="1.0"/>
<path d="M253.60,63.45H259.60M256.60,60.45V66.45M254.48,61.33L258.72,65.57M254.48,65.57L258.72,61.33" fill="none" stroke="#0000ff" stroke-width="1.3"/>
<text transform="translate(273.50 67.05) scale(1 1.15)" class="lg">DLSBBPSO</text>
<path d="M242.10,75.25H271.10" stroke="#ff0000" stroke-width="1.0" stroke-dasharray="3.7 3.8"/>
<path d="M253.50,75.25H259.70M256.60,72.15V78.35" fill="none" stroke="#ff0000" stroke-width="1.2"/>
<text transform="translate(273.50 78.85) scale(1 1.15)" class="lg">TBBPSO</text>
<path d="M242.10,86.85H271.10" stroke="#00ffff" stroke-width="1.0" stroke-dasharray="3.7 3.8"/>
<path d="M253.05,84.85L260.15,84.85L256.60,90.85Z" fill="none" stroke="#00ffff" stroke-width="1.2"/>
<text transform="translate(273.50 90.45) scale(1 1.15)" class="lg">ETBBPSO</text>
<g><path d="M378.42,222.16L385.34,222.59L392.27,223.02L399.19,223.44L406.11,223.86L413.03,224.27L419.96,224.67L426.88,225.07L433.80,225.46L440.72,225.84L447.64,226.22L454.57,226.60L461.49,226.96L468.41,227.32L475.33,227.68L482.26,228.03L489.18,228.37L496.10,228.71L503.02,229.04L509.94,229.37L516.87,229.68L523.79,230.00L530.71,230.30L537.63,230.61L544.56,230.90L551.48,231.19L558.40,231.47L565.32,231.75L572.24,232.02L579.17,232.29L586.09,232.55L593.01,232.80L599.93,233.05L606.86,233.29L613.78,233.53L620.70,233.75L627.62,233.98L634.54,234.20L641.47,234.41L648.39,234.61L655.31,234.81" fill="none" stroke="#ffff00" stroke-width="1.0"/>
<path d="M376.66,218.86L381.96,222.16L376.66,225.46ZM383.58,219.29L388.88,222.59L383.58,225.89ZM390.50,219.72L395.80,223.02L390.50,226.32ZM397.42,220.14L402.72,223.44L397.42,226.74ZM404.34,220.56L409.64,223.86L404.34,227.16ZM411.27,220.97L416.57,224.27L411.27,227.57ZM418.19,221.37L423.49,224.67L418.19,227.97ZM425.11,221.77L430.41,225.07L425.11,228.37ZM432.03,222.16L437.33,225.46L432.03,228.76ZM438.96,222.54L444.26,225.84L438.96,229.14ZM445.88,222.92L451.18,226.22L445.88,229.52ZM452.80,223.30L458.10,226.60L452.80,229.90ZM459.72,223.66L465.02,226.96L459.72,230.26ZM466.64,224.02L471.94,227.32L466.64,230.62ZM473.57,224.38L478.87,227.68L473.57,230.98ZM480.49,224.73L485.79,228.03L480.49,231.33ZM487.41,225.07L492.71,228.37L487.41,231.67ZM494.33,225.41L499.63,228.71L494.33,232.01ZM501.26,225.74L506.56,229.04L501.26,232.34ZM508.18,226.06L513.48,229.37L508.18,232.67ZM515.10,226.38L520.40,229.68L515.10,232.98ZM522.02,226.70L527.32,230.00L522.02,233.30ZM528.94,227.00L534.24,230.30L528.94,233.60ZM535.87,227.31L541.17,230.61L535.87,233.91ZM542.79,227.60L548.09,230.90L542.79,234.20ZM549.71,227.89L555.01,231.19L549.71,234.49ZM556.63,228.17L561.93,231.47L556.63,234.77ZM563.56,228.45L568.86,231.75L563.56,235.05ZM570.48,228.72L575.78,232.02L570.48,235.32ZM577.40,228.99L582.70,232.29L577.40,235.59ZM584.32,229.25L589.62,232.55L584.32,235.85ZM591.24,229.50L596.54,232.80L591.24,236.10ZM598.17,229.75L603.47,233.05L598.17,236.35ZM605.09,229.99L610.39,233.29L605.09,236.59ZM612.01,230.23L617.31,233.53L612.01,236.83ZM618.93,230.45L624.23,233.75L618.93,237.05ZM625.86,230.68L631.16,233.98L625.86,237.28ZM632.78,230.90L638.08,234.20L632.78,237.50ZM639.70,231.11L645.00,234.41L639.70,237.71ZM646.62,231.31L651.92,234.61L646.62,237.91ZM653.54,231.51L658.84,234.81L653.54,238.11Z" fill="none" stroke="#ffff00" stroke-width="1.2"/>
<path d="M378.42,77.55L385.34,79.55L392.27,81.53L399.19,83.48L406.11,85.39L413.03,87.27L419.96,89.13L426.88,90.95L433.80,92.74L440.72,94.50L447.64,96.23L454.57,97.93L461.49,99.60L468.41,101.23L475.33,102.84L482.26,104.41L489.18,105.96L496.10,107.47L503.02,108.95L509.94,110.41L516.87,111.83L523.79,113.22L530.71,114.58L537.63,115.91L544.56,117.20L551.48,118.47L558.40,119.71L565.32,120.91L572.24,122.09L579.17,123.23L586.09,124.34L593.01,125.43L599.93,126.48L606.86,127.50L613.78,128.49L620.70,129.45L627.62,130.37L634.54,131.27L641.47,132.14L648.39,132.97L655.31,133.78" fill="none" stroke="#000000" stroke-width="1.0"/>
<path d="M378.42,73.80L381.07,77.55L378.42,81.30L375.77,77.55ZM385.34,75.80L387.99,79.55L385.34,83.30L382.69,79.55ZM392.27,77.78L394.92,81.53L392.27,85.28L389.62,81.53ZM399.19,79.73L401.84,83.48L399.19,87.23L396.54,83.48ZM406.11,81.64L408.76,85.39L406.11,89.14L403.46,85.39ZM413.03,83.52L415.68,87.27L413.03,91.02L410.38,87.27ZM419.96,85.38L422.61,89.13L419.96,92.88L417.31,89.13ZM426.88,87.20L429.53,90.95L426.88,94.70L424.23,90.95ZM433.80,88.99L436.45,92.74L433.80,96.49L431.15,92.74ZM440.72,90.75L443.37,94.50L440.72,98.25L438.07,94.50ZM447.64,92.48L450.29,96.23L447.64,99.98L444.99,96.23ZM454.57,94.18L457.22,97.93L454.57,101.68L451.92,97.93ZM461.49,95.85L464.14,99.60L461.49,103.35L458.84,99.60ZM468.41,97.48L471.06,101.23L468.41,104.98L465.76,101.23ZM475.33,99.09L477.98,102.84L475.33,106.59L472.68,102.84ZM482.26,100.66L484.91,104.41L482.26,108.16L479.61,104.41ZM489.18,102.21L491.83,105.96L489.18,109.71L486.53,105.96ZM496.10,103.72L498.75,107.47L496.10,111.22L493.45,107.47ZM503.02,105.20L505.67,108.95L503.02,112.70L500.37,108.95ZM509.94,106.66L512.59,110.41L509.94,114.16L507.29,110.41ZM516.87,108.08L519.52,111.83L516.87,115.58L514.22,111.83ZM523.79,109.47L526.44,113.22L523.79,116.97L521.14,113.22ZM530.71,110.83L533.36,114.58L530.71,118.33L528.06,114.58ZM537.63,112.16L540.28,115.91L537.63,119.66L534.98,115.91ZM544.56,113.45L547.21,117.20L544.56,120.95L541.91,117.20ZM551.48,114.72L554.13,118.47L551.48,122.22L548.83,118.47ZM558.40,115.96L561.05,119.71L558.40,123.46L555.75,119.71ZM565.32,117.16L567.97,120.91L565.32,124.66L562.67,120.91ZM572.24,118.34L574.89,122.09L572.24,125.84L569.59,122.09ZM579.17,119.48L581.82,123.23L579.17,126.98L576.52,123.23ZM586.09,120.59L588.74,124.34L586.09,128.09L583.44,124.34ZM593.01,121.68L595.66,125.43L593.01,129.18L590.36,125.43ZM599.93,122.73L602.58,126.48L599.93,130.23L597.28,126.48ZM606.86,123.75L609.51,127.50L606.86,131.25L604.21,127.50ZM613.78,124.74L616.43,128.49L613.78,132.24L611.13,128.49ZM620.70,125.70L623.35,129.45L620.70,133.20L618.05,129.45ZM627.62,126.62L630.27,130.37L627.62,134.12L624.97,130.37ZM634.54,127.52L637.19,131.27L634.54,135.02L631.89,131.27ZM641.47,128.39L644.12,132.14L641.47,135.89L638.82,132.14ZM648.39,129.22L651.04,132.97L648.39,136.72L645.74,132.97ZM655.31,130.03L657.96,133.78L655.31,137.53L652.66,133.78Z" fill="none" stroke="#000000" stroke-width="1.2"/>
<path d="M378.42,69.46L385.34,72.32L392.27,75.12L399.19,77.87L406.11,80.57L413.03,83.21L419.96,85.81L426.88,88.35L433.80,90.84L440.72,93.28L447.64,95.66L454.57,98.00L461.49,100.28L468.41,102.51L475.33,104.69L482.26,106.81L489.18,108.89L496.10,110.91L503.02,112.88L509.94,114.80L516.87,116.67L523.79,118.48L530.71,120.24L537.63,121.95L544.56,123.61L551.48,125.22L558.40,126.77L565.32,128.28L572.24,129.73L579.17,131.13L586.09,132.47L593.01,133.77L599.93,135.01L606.86,136.20L613.78,137.34L620.70,138.43L627.62,139.47L634.54,140.45L641.47,141.38L648.39,142.26L655.31,143.09" fill="none" stroke="#00ff00" stroke-width="1.0"/>
<path d="M375.57,69.46a2.85,2.85 0 1,0 5.70,0a2.85,2.85 0 1,0 -5.70,0ZM382.49,72.32a2.85,2.85 0 1,0 5.70,0a2.85,2.85 0 1,0 -5.70,0ZM389.42,75.12a2.85,2.85 0 1,0 5.70,0a2.85,2.85 0 1,0 -5.70,0ZM396.34,77.87a2.85,2.85 0 1,0 5.70,0a2.85,2.85 0 1,0 -5.70,0ZM403.26,80.57a2.85,2.85 0 1,0 5.70,0a2.85,2.85 0 1,0 -5.70,0ZM410.18,83.21a2.85,2.85 0 1,0 5.70,0a2.85,2.85 0 1,0 -5.70,0ZM417.11,85.81a2.85,2.85 0 1,0 5.70,0a2.85,2.85 0 1,0 -5.70,0ZM424.03,88.35a2.85,2.85 0 1,0 5.70,0a2.85,2.85 0 1,0 -5.70,0ZM430.95,90.84a2.85,2.85 0 1,0 5.70,0a2.85,2.85 0 1,0 -5.70,0ZM437.87,93.28a2.85,2.85 0 1,0 5.70,0a2.85,2.85 0 1,0 -5.70,0ZM444.79,95.66a2.85,2.85 0 1,0 5.70,0a2.85,2.85 0 1,0 -5.70,0ZM451.72,98.00a2.85,2.85 0 1,0 5.70,0a2.85,2.85 0 1,0 -5.70,0ZM458.64,100.28a2.85,2.85 0 1,0 5.70,0a2.85,2.85 0 1,0 -5.70,0ZM465.56,102.51a2.85,2.85 0 1,0 5.70,0a2.85,2.85 0 1,0 -5.70,0ZM472.48,104.69a2.85,2.85 0 1,0 5.70,0a2.85,2.85 0 1,0 -5.70,0ZM479.41,106.81a2.85,2.85 0 1,0 5.70,0a2.85,2.85 0 1,0 -5.70,0ZM486.33,108.89a2.85,2.85 0 1,0 5.70,0a2.85,2.85 0 1,0 -5.70,0ZM493.25,110.91a2.85,2.85 0 1,0 5.70,0a2.85,2.85 0 1,0 -5.70,0ZM500.17,112.88a2.85,2.85 0 1,0 5.70,0a2.85,2.85 0 1,0 -5.70,0ZM507.09,114.80a2.85,2.85 0 1,0 5.70,0a2.85,2.85 0 1,0 -5.70,0ZM514.02,116.67a2.85,2.85 0 1,0 5.70,0a2.85,2.85 0 1,0 -5.70,0ZM520.94,118.48a2.85,2.85 0 1,0 5.70,0a2.85,2.85 0 1,0 -5.70,0ZM527.86,120.24a2.85,2.85 0 1,0 5.70,0a2.85,2.85 0 1,0 -5.70,0ZM534.78,121.95a2.85,2.85 0 1,0 5.70,0a2.85,2.85 0 1,0 -5.70,0ZM541.71,123.61a2.85,2.85 0 1,0 5.70,0a2.85,2.85 0 1,0 -5.70,0ZM548.63,125.22a2.85,2.85 0 1,0 5.70,0a2.85,2.85 0 1,0 -5.70,0ZM555.55,126.77a2.85,2.85 0 1,0 5.70,0a2.85,2.85 0 1,0 -5.70,0ZM562.47,128.28a2.85,2.85 0 1,0 5.70,0a2.85,2.85 0 1,0 -5.70,0ZM569.39,129.73a2.85,2.85 0 1,0 5.70,0a2.85,2.85 0 1,0 -5.70,0ZM576.32,131.13a2.85,2.85 0 1,0 5.70,0a2.85,2.85 0 1,0 -5.70,0ZM583.24,132.47a2.85,2.85 0 1,0 5.70,0a2.85,2.85 0 1,0 -5.70,0ZM590.16,133.77a2.85,2.85 0 1,0 5.70,0a2.85,2.85 0 1,0 -5.70,0ZM597.08,135.01a2.85,2.85 0 1,0 5.70,0a2.85,2.85 0 1,0 -5.70,0ZM604.01,136.20a2.85,2.85 0 1,0 5.70,0a2.85,2.85 0 1,0 -5.70,0ZM610.93,137.34a2.85,2.85 0 1,0 5.70,0a2.85,2.85 0 1,0 -5.70,0ZM617.85,138.43a2.85,2.85 0 1,0 5.70,0a2.85,2.85 0 1,0 -5.70,0ZM624.77,139.47a2.85,2.85 0 1,0 5.70,0a2.85,2.85 0 1,0 -5.70,0ZM631.69,140.45a2.85,2.85 0 1,0 5.70,0a2.85,2.85 0 1,0 -5.70,0ZM638.62,141.38a2.85,2.85 0 1,0 5.70,0a2.85,2.85 0 1,0 -5.70,0ZM645.54,142.26a2.85,2.85 0 1,0 5.70,0a2.85,2.85 0 1,0 -5.70,0ZM652.46,143.09a2.85,2.85 0 1,0 5.70,0a2.85,2.85 0 1,0 -5.70,0Z" fill="none" stroke="#00ff00" stroke-width="1.2"/>
<path d="M378.42,20.79L385.34,23.43L392.27,26.04L399.19,28.62L406.11,31.17L413.03,33.68L419.96,36.17L426.88,38.63L433.80,41.06L440.72,43.45L447.64,45.82L454.57,48.16L461.49,50.47L468.41,52.74L475.33,54.99L482.26,57.21L489.18,59.39L496.10,61.55L503.02,63.68L509.94,65.78L516.87,67.84L523.79,69.88L530.71,71.88L537.63,73.86L544.56,75.81L551.48,77.72L558.40,79.61L565.32,81.46L572.24,83.29L579.17,85.09L586.09,86.85L593.01,88.59L599.93,90.29L606.86,91.97L613.78,93.61L620.70,95.23L627.62,96.81L634.54,98.37L641.47,99.89L648.39,101.39L655.31,102.85" fill="none" stroke="#0000ff" stroke-width="1.0"/>
<path d="M375.42,20.79H381.42M378.42,17.79V23.79M376.30,18.67L380.54,22.91M376.30,22.91L380.54,18.67M382.34,23.43H388.34M385.34,20.43V26.43M383.22,21.31L387.47,25.55M383.22,25.55L387.47,21.31M389.27,26.04H395.27M392.27,23.04V29.04M390.15,23.92L394.39,28.16M390.15,28.16L394.39,23.92M396.19,28.62H402.19M399.19,25.62V31.62M397.07,26.50L401.31,30.74M397.07,30.74L401.31,26.50M403.11,31.17H409.11M406.11,28.17V34.17M403.99,29.04L408.23,33.29M403.99,33.29L408.23,29.04M410.03,33.68H416.03M413.03,30.68V36.68M410.91,31.56L415.15,35.80M410.91,35.80L415.15,31.56M416.96,36.17H422.96M419.96,33.17V39.17M417.83,34.05L422.08,38.29M417.83,38.29L422.08,34.05M423.88,38.63H429.88M426.88,35.63V41.63M424.76,36.51L429.00,40.75M424.76,40.75L429.00,36.51M430.80,41.06H436.80M433.80,38.06V44.06M431.68,38.94L435.92,43.18M431.68,43.18L435.92,38.94M437.72,43.45H443.72M440.72,40.45V46.45M438.60,41.33L442.84,45.58M438.60,45.58L442.84,41.33M444.64,45.82H450.64M447.64,42.82V48.82M445.52,43.70L449.77,47.94M445.52,47.94L449.77,43.70M451.57,48.16H457.57M454.57,45.16V51.16M452.45,46.04L456.69,50.28M452.45,50.28L456.69,46.04M458.49,50.47H464.49M461.49,47.47V53.47M459.37,48.35L463.61,52.59M459.37,52.59L463.61,48.35M465.41,52.74H471.41M468.41,49.74V55.74M466.29,50.62L470.53,54.87M466.29,54.87L470.53,50.62M472.33,54.99H478.33M475.33,51.99V57.99M473.21,52.87L477.45,57.11M473.21,57.11L477.45,52.87M479.26,57.21H485.26M482.26,54.21V60.21M480.13,55.09L484.38,59.33M480.13,59.33L484.38,55.09M486.18,59.39H492.18M489.18,56.39V62.39M487.06,57.27L491.30,61.52M487.06,61.52L491.30,57.27M493.10,61.55H499.10M496.10,58.55V64.55M493.98,59.43L498.22,63.67M493.98,63.67L498.22,59.43M500.02,63.68H506.02M503.02,60.68V66.68M500.90,61.56L505.14,65.80M500.90,65.80L505.14,61.56M506.94,65.78H512.94M509.94,62.78V68.78M507.82,63.65L512.07,67.90M507.82,67.90L512.07,63.65M513.87,67.84H519.87M516.87,64.84V70.84M514.75,65.72L518.99,69.96M514.75,69.96L518.99,65.72M520.79,69.88H526.79M523.79,66.88V72.88M521.67,67.76L525.91,72.00M521.67,72.00L525.91,67.76M527.71,71.88H533.71M530.71,68.88V74.88M528.59,69.76L532.83,74.01M528.59,74.01L532.83,69.76M534.63,73.86H540.63M537.63,70.86V76.86M535.51,71.74L539.75,75.98M535.51,75.98L539.75,71.74M541.56,75.81H547.56M544.56,72.81V78.81M542.43,73.69L546.68,77.93M542.43,77.93L546.68,73.69M548.48,77.72H554.48M551.48,74.72V80.72M549.36,75.60L553.60,79.84M549.36,79.84L553.60,75.60M555.40,79.61H561.40M558.40,76.61V82.61M556.28,77.49L560.52,81.73M556.28,81.73L560.52,77.49M562.32,81.46H568.32M565.32,78.46V84.46M563.20,79.34L567.44,83.59M563.20,83.59L567.44,79.34M569.24,83.29H575.24M572.24,80.29V86.29M570.12,81.17L574.37,85.41M570.12,85.41L574.37,81.17M576.17,85.09H582.17M579.17,82.09V88.09M577.05,82.96L581.29,87.21M577.05,87.21L581.29,82.96M583.09,86.85H589.09M586.09,83.85V89.85M583.97,84.73L588.21,88.97M583.97,88.97L588.21,84.73M590.01,88.59H596.01M593.01,85.59V91.59M590.89,86.47L595.13,90.71M590.89,90.71L595.13,86.47M596.93,90.29H602.93M599.93,87.29V93.29M597.81,88.17L602.05,92.41M597.81,92.41L602.05,88.17M603.86,91.97H609.86M606.86,88.97V94.97M604.73,89.85L608.98,94.09M604.73,94.09L608.98,89.85M610.78,93.61H616.78M613.78,90.61V96.61M611.66,91.49L615.90,95.73M611.66,95.73L615.90,91.49M617.70,95.23H623.70M620.70,92.23V98.23M618.58,93.11L622.82,97.35M618.58,97.35L622.82,93.11M624.62,96.81H630.62M627.62,93.81V99.81M625.50,94.69L629.74,98.93M625.50,98.93L629.74,94.69M631.54,98.37H637.54M634.54,95.37V101.37M632.42,96.25L636.67,100.49M632.42,100.49L636.67,96.25M638.47,99.89H644.47M641.47,96.89V102.89M639.35,97.77L643.59,102.01M639.35,102.01L643.59,97.77M645.39,101.39H651.39M648.39,98.39V104.39M646.27,99.26L650.51,103.51M646.27,103.51L650.51,99.26M652.31,102.85H658.31M655.31,99.85V105.85M653.19,100.73L657.43,104.97M653.19,104.97L657.43,100.73" fill="none" stroke="#0000ff" stroke-width="1.3"/>
<path d="M378.42,127.80L385.34,129.52L392.27,131.20L399.19,132.86L406.11,134.48L413.03,136.08L419.96,137.64L426.88,139.17L433.80,140.68L440.72,142.15L447.64,143.59L454.57,145.01L461.49,146.39L468.41,147.74L475.33,149.06L482.26,150.35L489.18,151.61L496.10,152.84L503.02,154.04L509.94,155.21L516.87,156.35L523.79,157.46L530.71,158.54L537.63,159.59L544.56,160.61L551.48,161.60L558.40,162.56L565.32,163.48L572.24,164.38L579.17,165.25L586.09,166.08L593.01,166.89L599.93,167.67L606.86,168.41L613.78,169.13L620.70,169.81L627.62,170.47L634.54,171.09L641.47,171.69L648.39,172.25L655.31,172.79" fill="none" stroke="#ff0000" stroke-width="1.0" stroke-dasharray="3.7 3.8"/>
<path d="M375.32,127.80H381.52M378.42,124.70V130.90M382.24,129.52H388.44M385.34,126.42V132.62M389.17,131.20H395.37M392.27,128.10V134.30M396.09,132.86H402.29M399.19,129.76V135.96M403.01,134.48H409.21M406.11,131.38V137.58M409.93,136.08H416.13M413.03,132.98V139.18M416.86,137.64H423.06M419.96,134.54V140.74M423.78,139.17H429.98M426.88,136.07V142.27M430.70,140.68H436.90M433.80,137.58V143.78M437.62,142.15H443.82M440.72,139.05V145.25M444.54,143.59H450.74M447.64,140.49V146.69M451.47,145.01H457.67M454.57,141.91V148.11M458.39,146.39H464.59M461.49,143.29V149.49M465.31,147.74H471.51M468.41,144.64V150.84M472.23,149.06H478.43M475.33,145.96V152.16M479.16,150.35H485.36M482.26,147.25V153.45M486.08,151.61H492.28M489.18,148.51V154.71M493.00,152.84H499.20M496.10,149.74V155.94M499.92,154.04H506.12M503.02,150.94V157.14M506.84,155.21H513.04M509.94,152.11V158.31M513.77,156.35H519.97M516.87,153.25V159.45M520.69,157.46H526.89M523.79,154.36V160.56M527.61,158.54H533.81M530.71,155.44V161.64M534.53,159.59H540.73M537.63,156.49V162.69M541.46,160.61H547.66M544.56,157.51V163.71M548.38,161.60H554.58M551.48,158.50V164.70M555.30,162.56H561.50M558.40,159.46V165.66M562.22,163.48H568.42M565.32,160.38V166.58M569.14,164.38H575.34M572.24,161.28V167.48M576.07,165.25H582.27M579.17,162.15V168.35M582.99,166.08H589.19M586.09,162.98V169.18M589.91,166.89H596.11M593.01,163.79V169.99M596.83,167.67H603.03M599.93,164.57V170.77M603.76,168.41H609.96M606.86,165.31V171.51M610.68,169.13H616.88M613.78,166.03V172.23M617.60,169.81H623.80M620.70,166.71V172.91M624.52,170.47H630.72M627.62,167.37V173.57M631.44,171.09H637.64M634.54,167.99V174.19M638.37,171.69H644.57M641.47,168.59V174.79M645.29,172.25H651.49M648.39,169.15V175.35M652.21,172.79H658.41M655.31,169.69V175.89" fill="none" stroke="#ff0000" stroke-width="1.2"/>
<path d="M378.42,90.73L385.34,92.84L392.27,94.91L399.19,96.95L406.11,98.95L413.03,100.91L419.96,102.84L426.88,104.72L433.80,106.57L440.72,108.39L447.64,110.16L454.57,111.90L461.49,113.60L468.41,115.27L475.33,116.89L482.26,118.48L489.18,120.03L496.10,121.55L503.02,123.02L509.94,124.46L516.87,125.87L523.79,127.23L530.71,128.56L537.63,129.85L544.56,131.10L551.48,132.32L558.40,133.50L565.32,134.64L572.24,135.74L579.17,136.81L586.09,137.84L593.01,138.83L599.93,139.78L606.86,140.70L613.78,141.58L620.70,142.42L627.62,143.23L634.54,144.00L641.47,144.73L648.39,145.42L655.31,146.08" fill="none" stroke="#00ffff" stroke-width="1.0" stroke-dasharray="3.7 3.8"/>
<path d="M374.87,88.73L381.97,88.73L378.42,94.73ZM381.79,90.84L388.89,90.84L385.34,96.84ZM388.72,92.91L395.82,92.91L392.27,98.91ZM395.64,94.95L402.74,94.95L399.19,100.95ZM402.56,96.95L409.66,96.95L406.11,102.95ZM409.48,98.91L416.58,98.91L413.03,104.91ZM416.41,100.84L423.51,100.84L419.96,106.84ZM423.33,102.72L430.43,102.72L426.88,108.72ZM430.25,104.57L437.35,104.57L433.80,110.57ZM437.17,106.39L444.27,106.39L440.72,112.39ZM444.09,108.16L451.19,108.16L447.64,114.16ZM451.02,109.90L458.12,109.90L454.57,115.90ZM457.94,111.60L465.04,111.60L461.49,117.60ZM464.86,113.27L471.96,113.27L468.41,119.27ZM471.78,114.89L478.88,114.89L475.33,120.89ZM478.71,116.48L485.81,116.48L482.26,122.48ZM485.63,118.03L492.73,118.03L489.18,124.03ZM492.55,119.55L499.65,119.55L496.10,125.55ZM499.47,121.02L506.57,121.02L503.02,127.02ZM506.39,122.46L513.49,122.46L509.94,128.46ZM513.32,123.87L520.42,123.87L516.87,129.87ZM520.24,125.23L527.34,125.23L523.79,131.23ZM527.16,126.56L534.26,126.56L530.71,132.56ZM534.08,127.85L541.18,127.85L537.63,133.85ZM541.01,129.10L548.11,129.10L544.56,135.10ZM547.93,130.32L555.03,130.32L551.48,136.32ZM554.85,131.50L561.95,131.50L558.40,137.50ZM561.77,132.64L568.87,132.64L565.32,138.64ZM568.69,133.74L575.79,133.74L572.24,139.74ZM575.62,134.81L582.72,134.81L579.17,140.81ZM582.54,135.84L589.64,135.84L586.09,141.84ZM589.46,136.83L596.56,136.83L593.01,142.83ZM596.38,137.78L603.48,137.78L599.93,143.78ZM603.31,138.70L610.41,138.70L606.86,144.70ZM610.23,139.58L617.33,139.58L613.78,145.58ZM617.15,140.42L624.25,140.42L620.70,146.42ZM624.07,141.23L631.17,141.23L627.62,147.23ZM630.99,142.00L638.09,142.00L634.54,148.00ZM637.92,142.73L645.02,142.73L641.47,148.73ZM644.84,143.42L651.94,143.42L648.39,149.42ZM651.76,144.08L658.86,144.08L655.31,150.08Z" fill="none" stroke="#00ffff" stroke-width="1.2"/></g>
<path d="M371.5,13.5H683.5V259.5H371.5Z" fill="none" stroke="#262626" stroke-width="0.6"/>
<path d="M371.50,259.5v-3.5M371.50,13.5v3.5M440.72,259.5v-3.5M440.72,13.5v3.5M509.94,259.5v-3.5M509.94,13.5v3.5M579.17,259.5v-3.5M579.17,13.5v3.5M648.39,259.5v-3.5M648.39,13.5v3.5M371.5,259.50h3.5M683.5,259.50h-3.5M371.5,224.36h3.5M683.5,224.36h-3.5M371.5,189.21h3.5M683.5,189.21h-3.5M371.5,154.07h3.5M683.5,154.07h-3.5M371.5,118.93h3.5M683.5,118.93h-3.5M371.5,83.79h3.5M683.5,83.79h-3.5M371.5,48.64h3.5M683.5,48.64h-3.5M371.5,13.50h3.5M683.5,13.50h-3.5" fill="none" stroke="#262626" stroke-width="0.6"/>
<text x="371.50" y="273.1" text-anchor="middle" class="tk">60</text>
<text x="440.72" y="273.1" text-anchor="middle" class="tk">70</text>
<text x="509.94" y="273.1" text-anchor="middle" class="tk">80</text>
<text x="579.17" y="273.1" text-anchor="middle" class="tk">90</text>
<text x="648.39" y="273.1" text-anchor="middle" class="tk">100</text>
<text x="367.40" y="262.80" text-anchor="end" class="tk">0</text>
<text x="367.40" y="227.66" text-anchor="end" class="tk">2</text>
<text x="367.40" y="192.51" text-anchor="end" class="tk">4</text>
<text x="367.40" y="157.37" text-anchor="end" class="tk">6</text>
<text x="367.40" y="122.23" text-anchor="end" class="tk">8</text>
<text x="367.40" y="87.09" text-anchor="end" class="tk">10</text>
<text x="367.40" y="51.94" text-anchor="end" class="tk">12</text>
<text x="367.40" y="16.80" text-anchor="end" class="tk">14</text>
<text x="374.85" y="11.9" text-anchor="middle" style="font-size:9.6px;stroke-width:0">×</text>
<text x="379.50" y="11.8" style="font-size:9.6px">10</text>
<text x="389.90" y="6.4" style="font-size:7.2px">6</text>
<text x="527.25" y="286.6" text-anchor="middle" style="font-size:10.6px">(b)</text>
<rect x="592.5" y="20.7" width="83.0" height="73.5" fill="#fff" stroke="#262626" stroke-width="0.6"/>
<path d="M595.10,27.90H624.10" stroke="#ffff00" stroke-width="1.0"/>
<path d="M607.83,24.60L613.13,27.90L607.83,31.20Z" fill="none" stroke="#ffff00" stroke-width="1.2"/>
<text transform="translate(626.50 31.50) scale(1 1.15)" class="lg">HCOA</text>
<path d="M595.10,39.55H624.10" stroke="#000000" stroke-width="1.0"/>
<path d="M609.60,35.80L612.25,39.55L609.60,43.30L606.95,39.55Z" fill="none" stroke="#000000" stroke-width="1.2"/>
<text transform="translate(626.50 43.15) scale(1 1.15)" class="lg">BBPSO</text>
<path d="M595.10,51.50H624.10" stroke="#00ff00" stroke-width="1.0"/>
<path d="M606.75,51.50a2.85,2.85 0 1,0 5.70,0a2.85,2.85 0 1,0 -5.70,0Z" fill="none" stroke="#00ff00" stroke-width="1.2"/>
<text transform="translate(626.50 55.10) scale(1 1.15)" class="lg">PBBPSO</text>
<path d="M595.10,63.45H624.10" stroke="#0000ff" stroke-width="1.0"/>
<path d="M606.60,63.45H612.60M609.60,60.45V66.45M607.48,61.33L611.72,65.57M607.48,65.57L611.72,61.33" fill="none" stroke="#0000ff" stroke-width="1.3"/>
<text transform="translate(626.50 67.05) scale(1 1.15)" class="lg">DLSBBPSO</text>
<path d="M595.10,75.25H624.10" stroke="#ff0000" stroke-width="1.0" stroke-dasharray="3.7 3.8"/>
<path d="M606.50,75.25H612.70M609.60,72.15V78.35" fill="none" stroke="#ff0000" stroke-width="1.2"/>
<text transform="translate(626.50 78.85) scale(1 1.15)" class="lg">TBBPSO</text>
<path d="M595.10,86.85H624.10" stroke="#00ffff" stroke-width="1.0" stroke-dasharray="3.7 3.8"/>
<path d="M606.05,84.85L613.15,84.85L609.60,90.85Z" fill="none" stroke="#00ffff" stroke-width="1.2"/>
<text transform="translate(626.50 90.45) scale(1 1.15)" class="lg">ETBBPSO</text>
</svg>
</body></html>
